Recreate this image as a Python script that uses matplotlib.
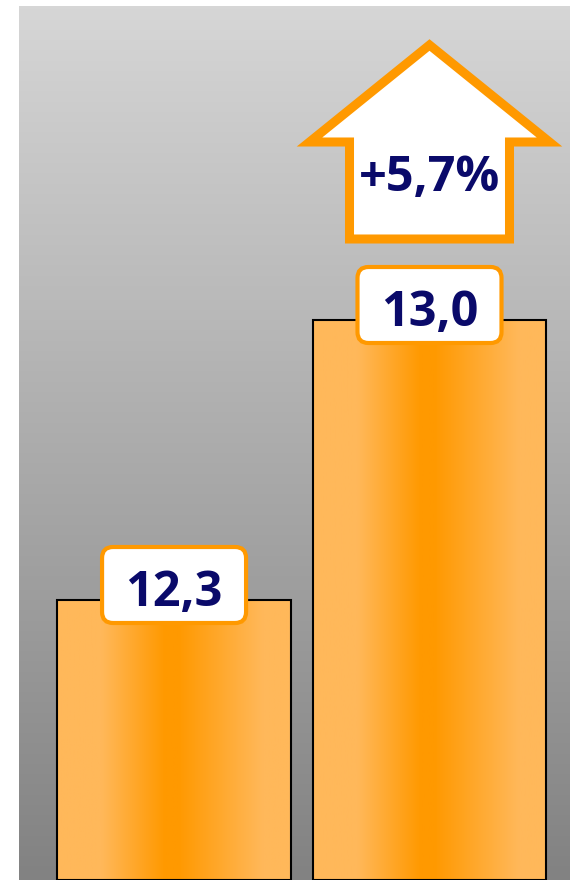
import numpy as np
import matplotlib.pyplot as plt
import matplotlib.transforms as mtransforms
from matplotlib.patches import Polygon, FancyBboxPatch
from matplotlib.colors import to_rgb

# data
years = ["prev", "curr"]
values = [12.3, 13.0]
labels = ["12,3", "13,0"]
growth_label = "+5,7%"

navy = "#0a0a6a"
orange = "#ff9900"
light_orange = "#ffb85a"
font = ["Open Sans", "DejaVu Sans"]

fig = plt.figure(figsize=(5.7, 8.8), dpi=100, facecolor="white")
ax = fig.add_axes([19 / 570, 0, 551 / 570, 874 / 880])
ymin, ymax = 11.6, 13.785
xmin, xmax = -0.607, 1.55
ax.set_xlim(xmin, xmax)
ax.set_ylim(ymin, ymax)
ax.axis("off")

# grey vertical gradient background
top, bot = np.array(to_rgb("#d6d6d6")), np.array(to_rgb("#828282"))
g = np.linspace(0, 1, 256)[:, None, None]
bg = top * (1 - g) + bot * g
ax.imshow(bg, extent=[xmin, xmax, ymin, ymax], aspect="auto", zorder=0)

# bars with horizontal orange gradient
L, D = np.array(to_rgb(light_orange)), np.array(to_rgb(orange))
u = np.linspace(0, 1, 300)
mix = np.interp(u, [0, 0.19, 0.46, 0.52, 0.88, 1], [0, 0, 1, 1, 0, 0])
grad = (L * (1 - mix)[:, None] + D * mix[:, None])[None, :, :]
xs = np.arange(len(values))
width = 0.916
bars = ax.bar(xs, np.array(values) - ymin, bottom=ymin, width=width,
              facecolor="none", edgecolor="black", linewidth=1.5, zorder=3)
for x, v, b in zip(xs, values, bars):
    im = ax.imshow(grad, extent=[x - width / 2, x + width / 2, ymin, v],
                   aspect="auto", zorder=2)
    im.set_clip_path(b)


def px_trans(x, y):
    # pixel offsets relative to a data point
    return mtransforms.Affine2D() + mtransforms.ScaledTranslation(x, y, ax.transData)


# value labels in rounded boxes
for x, v, lab in zip(xs, values, labels):
    tr = px_trans(x, v)
    box = FancyBboxPatch((-60, 15 - 26), 120, 52,
                         boxstyle="round,pad=12,rounding_size=11",
                         facecolor="white", edgecolor=orange, linewidth=3,
                         transform=tr, zorder=5)
    ax.add_patch(box)
    ax.text(0, 13, lab, transform=tr, ha="center", va="center_baseline",
            fontsize=35, fontweight="bold", family=font,
            color=navy, zorder=6)

# growth arrow above second bar
tr = px_trans(xs[1], values[1])
arrow = [(0, 275), (120, 178), (80, 178), (80, 81), (-80, 81), (-80, 178),
         (-120, 178)]
ax.add_patch(Polygon(arrow, closed=True, facecolor="white", edgecolor=orange,
                     linewidth=6.5, joinstyle="miter", transform=tr, zorder=5))
ax.text(0, 148, growth_label, transform=tr, ha="center", va="center_baseline",
        fontsize=35, fontweight="bold", family=font, color=navy, zorder=6)

fig.savefig("out.png", dpi=100, facecolor="white")
